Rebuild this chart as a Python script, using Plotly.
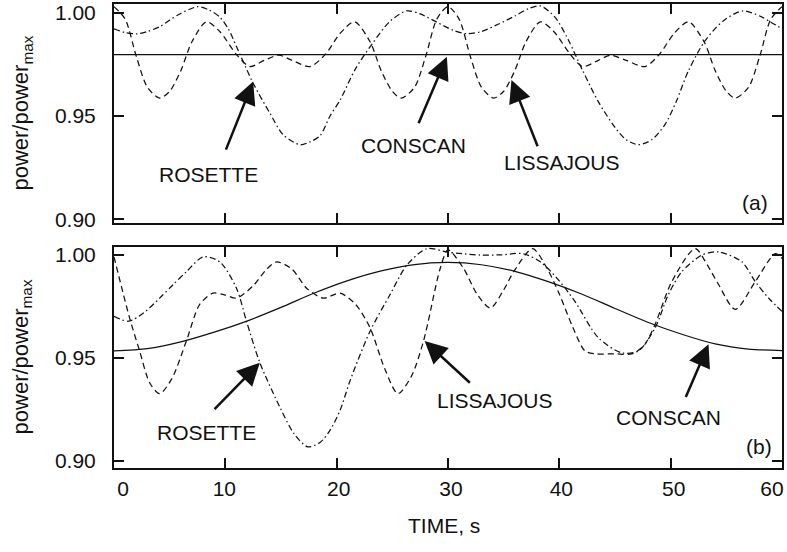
import plotly.graph_objects as go

# ---------------- data ----------------
# Panel (a)
t_a_conscan = [0, 60]
v_a_conscan = [0.9798, 0.9798]

t_a_lis = [0, 1, 2, 3, 4.1, 5, 6, 7, 8.3, 9.5, 11, 12.2, 13.5, 14.8, 16, 17.6, 19, 20.3,
           21.6, 23, 24, 25, 25.8, 27, 28, 29, 30, 31, 32, 33, 34.1, 35, 36, 37, 38.3, 39.5,
           41, 42.1, 43.5, 44.6, 46, 47.7, 49, 50.3, 51.6, 53, 54, 55, 55.8, 57, 58, 59, 60]
v_a_lis = [1.003, 0.997, 0.979, 0.964, 0.9587, 0.962, 0.972, 0.986, 0.9957, 0.991, 0.9798,
           0.974, 0.977, 0.9795, 0.977, 0.974, 0.980, 0.990, 0.9957, 0.986, 0.972, 0.962,
           0.9587, 0.964, 0.979, 0.997, 1.003, 0.997, 0.979, 0.964, 0.9587, 0.962, 0.972,
           0.986, 0.9957, 0.991, 0.9798, 0.974, 0.977, 0.9795, 0.977, 0.974, 0.980, 0.990,
           0.9957, 0.986, 0.972, 0.962, 0.9587, 0.964, 0.979, 0.997, 1.003]

t_a_ros = [0, 1, 2.1, 3, 4.1, 5, 5.9, 7.5, 8.5, 9.5, 10.3, 11, 12.5, 14, 15.2, 16.7, 17.6,
           18.5, 19.4, 20.3, 21.7, 23.2, 24.8, 26.3, 27.5, 29, 30.5, 31.7, 33, 34.5, 36,
           37.2, 38.3, 39.6, 40.8, 42.1, 43.5, 45, 46, 47.1, 48.3, 49.5, 50.5, 51.6, 53.1,
           54.8, 56.5, 58, 59, 60]
v_a_ros = [0.9923, 0.9905, 0.9899, 0.9910, 0.9933, 0.9965, 0.9995, 1.0030, 1.0015, 0.9980,
           0.9920, 0.9837, 0.9659, 0.9514, 0.9409, 0.9361, 0.9375, 0.9404, 0.9500, 0.9577,
           0.9730, 0.9851, 0.9960, 1.0010, 0.9995, 0.9955, 0.9915, 0.9899, 0.9910, 0.9945,
           0.9985, 1.0020, 1.0034, 0.9980, 0.9870, 0.9720, 0.9570, 0.9445, 0.9385, 0.9361,
           0.9385, 0.9460, 0.9570, 0.9720, 0.9866, 0.9965, 1.0010, 0.9985, 0.9955, 0.9923]

# Panel (b)
t_b_conscan = [0, 3, 6, 9, 12, 15, 18, 21, 24, 27, 30, 33, 36, 39, 42, 45, 48, 51, 54, 57, 60]
v_b_conscan = [0.9534, 0.9545, 0.9578, 0.9625, 0.9680, 0.9745, 0.9815, 0.9875, 0.9922,
               0.9953, 0.9963, 0.9952, 0.9920, 0.9870, 0.9810, 0.9740, 0.9672, 0.9615,
               0.9568, 0.9543, 0.9536]

t_b_lis = [0, 1.4, 2.3, 3.2, 4.1, 5.2, 6.5, 7.7, 8.9, 10, 11, 12.5, 13.7, 14.6, 16, 17.3,
           18.8, 20.3, 21.7, 23, 24.3, 25.5, 26.7, 27.8, 29.3, 30, 31.4, 32.6, 33.8, 35,
           35.9, 37.6, 38.9, 40, 41.2, 42.3, 43.2, 45, 46.5, 47.6, 48.6, 50.1, 52.2, 53.3,
           54.3, 55.8, 57.6, 59.4, 60]
v_b_lis = [0.999, 0.9694, 0.9534, 0.938, 0.9327, 0.940, 0.9582, 0.976, 0.9814, 0.9805,
           0.979, 0.985, 0.993, 0.9966, 0.993, 0.9838, 0.979, 0.9814, 0.976, 0.9646, 0.945,
           0.9327, 0.941, 0.9582, 0.9934, 1.0024, 0.9934, 0.981, 0.9742, 0.983, 0.9918,
           1.003, 0.9934, 0.981, 0.965, 0.9534, 0.952, 0.952, 0.952, 0.956, 0.9663, 0.987,
           1.003, 0.995, 0.9856, 0.9736, 0.987, 1.0006, 0.9982]

t_b_ros = [0, 1.3, 2.7, 4.1, 5.3, 6.5, 8.0, 9.5, 11.0, 11.9, 13.1, 14.9, 16.2, 17.4, 18.5,
           19.4, 20.3, 21.2, 23, 24.8, 26.3, 28.1, 29.9, 31.4, 32.9, 34.8, 36.7, 38.3, 39.8,
           41.4, 43.5, 45.6, 47.1, 48.6, 49.8, 51, 52.8, 54.3, 56.4, 57.6, 58.8, 60]
v_b_ros = [0.9702, 0.9678, 0.972, 0.979, 0.9855, 0.9918, 0.999, 0.9966, 0.9838, 0.9678,
           0.9477, 0.9261, 0.913, 0.9069, 0.909, 0.9149, 0.9245, 0.9389, 0.963, 0.9808,
           0.995, 1.003, 1.0014, 1.0005, 0.9999, 1.0000, 1.0006, 0.9966, 0.9886, 0.9774,
           0.9598, 0.9525, 0.9534, 0.9646, 0.9808, 0.9918, 0.9999, 1.0014, 0.9966, 0.987,
           0.979, 0.9726]

x_ticks = [0, 10, 20, 30, 40, 50, 60]
x_tick_labels = ["0", "10", "20", "30", "40", "50", "60"]
y_ticks = [0.90, 0.95, 1.00]
y_range_a = [0.89808, 1.00433]
y_range_b = [0.89663, 1.00385]

# annotations: (label, text x, text y, tail x, tail y, tip x, tip y)
notes_a = [("ROSETTE", 8.5, 0.9218, 10.0, 0.9330, 12.5, 0.9667),
           ("CONSCAN", 26.9, 0.9356, 27.3, 0.9458, 29.9, 0.9787),
           ("LISSAJOUS", 40.2, 0.9274, 38.1, 0.9346, 35.7, 0.9675)]
notes_b = [("ROSETTE", 8.35, 0.9140, 8.9, 0.9245, 13.1, 0.9477),
           ("LISSAJOUS", 34.2, 0.9293, 32.1, 0.9373, 27.9, 0.9582),
           ("CONSCAN", 49.8, 0.9213, 51.3, 0.9303, 53.4, 0.9566)]

# ---------------- figure ----------------
FONT = "Liberation Sans, Arial, sans-serif"
INK = "#111111"
W, H = 787, 552
ML, MR, MT, MB = 114, 5, 0, 84
plot_w = W - ML - MR
plot_h = H - MT - MB
px_per_unit = plot_w / 60.0

# small horizontal pixel nudges of the printed x tick labels (as in the original scan)
label_nudge_px = [9, -1, 2, 3, 2, 3, -10]
x_label_pos = [v + d / px_per_unit for v, d in zip(x_ticks, label_nudge_px)]

fig = go.Figure()

dash_l = "6px,4px"
dash_r = "6px,3px,1.5px,3px"

def add(t, v, dash, xa, ya):
    fig.add_trace(go.Scatter(x=t, y=v, mode="lines", xaxis=xa, yaxis=ya,
                             line=dict(color=INK, width=1.25, dash=dash,
                                       shape="spline", smoothing=0.8),
                             hoverinfo="skip", showlegend=False))

add(t_a_conscan, v_a_conscan, "solid", "x2", "y2")
add(t_a_lis, v_a_lis, dash_l, "x2", "y2")
add(t_a_ros, v_a_ros, dash_r, "x2", "y2")
add(t_b_conscan, v_b_conscan, "solid", "x", "y")
add(t_b_lis, v_b_lis, dash_l, "x", "y")
add(t_b_ros, v_b_ros, dash_r, "x", "y")

axis_common = dict(showline=True, linecolor=INK, linewidth=2, mirror="ticks",
                   ticks="inside", ticklen=10, tickwidth=1.5, tickcolor=INK,
                   showgrid=False, zeroline=False,
                   tickfont=dict(family=FONT, size=21, color=INK))

top_lo = (plot_h - 221) / plot_h
bot_hi = (plot_h - 245) / plot_h

fig.update_layout(
    width=W, height=H,
    margin=dict(l=ML, r=MR, t=MT, b=MB),
    paper_bgcolor="white", plot_bgcolor="white",
    font=dict(family=FONT, size=21, color=INK),
    xaxis=dict(domain=[0, 1], anchor="y", range=[0, 60], tickvals=x_ticks,
               showticklabels=False, **axis_common),
    xaxis3=dict(overlaying="x", anchor="y", side="bottom", range=[0, 60],
                tickvals=x_label_pos, ticktext=x_tick_labels, ticks="",
                showline=False, showgrid=False, zeroline=False,
                ticklabelstandoff=6, ticklabeloverflow="allow",
                tickfont=dict(family=FONT, size=21, color=INK)),
    yaxis=dict(domain=[0, bot_hi], anchor="x", range=y_range_b, tickvals=y_ticks,
               tickformat=".2f", ticklabelstandoff=12, **axis_common),
    xaxis2=dict(domain=[0, 1], anchor="y2", range=[0, 60], tickvals=x_ticks,
                showticklabels=False, matches="x", **axis_common),
    yaxis2=dict(domain=[top_lo, 1], anchor="x2", range=y_range_a, tickvals=y_ticks,
                tickformat=".2f", ticklabelstandoff=12, **axis_common),
)

# invisible trace so that the label axis is drawn
fig.add_trace(go.Scatter(x=[0, 60], y=[None, None], xaxis="x3", yaxis="y",
                         mode="lines", showlegend=False, hoverinfo="skip"))

anns = []
def add_notes(notes, xr, yr):
    for lab, tx, ty, ax_, ay_, px, py in notes:
        anns.append(dict(x=tx, y=ty, xref=xr, yref=yr, text=lab, showarrow=False,
                         font=dict(family=FONT, size=21, color=INK),
                         xanchor="center", yanchor="middle"))
        anns.append(dict(x=px, y=py, xref=xr, yref=yr, ax=ax_, ay=ay_,
                         axref=xr, ayref=yr, text="", showarrow=True,
                         font=dict(size=1), arrowhead=2, arrowsize=1.8,
                         arrowwidth=2.5, arrowcolor=INK, standoff=0, startstandoff=0))

add_notes(notes_a, "x2", "y2")
add_notes(notes_b, "x", "y")

anns.append(dict(x=57.6, y=0.9082, xref="x2", yref="y2", text="(a)", showarrow=False,
                 font=dict(family=FONT, size=21, color=INK)))
anns.append(dict(x=57.9, y=0.9069, xref="x", yref="y", text="(b)", showarrow=False,
                 font=dict(family=FONT, size=21, color=INK)))

# axis titles
title_x = (22 - ML) / plot_w
for y_mid in [110.5, 356.5]:
    anns.append(dict(x=title_x, y=(plot_h - y_mid) / plot_h, xref="paper", yref="paper",
                     text="power/power<sub>max</sub>", textangle=-90, showarrow=False,
                     xanchor="center", yanchor="middle",
                     font=dict(family=FONT, size=22, color=INK)))
anns.append(dict(x=(444 - ML) / plot_w, y=(plot_h - 526) / plot_h,
                 xref="paper", yref="paper", text="TIME, s", showarrow=False,
                 xanchor="center", yanchor="middle",
                 font=dict(family=FONT, size=21, color=INK)))

fig.update_layout(annotations=anns)

fig.write_html("out.html")
